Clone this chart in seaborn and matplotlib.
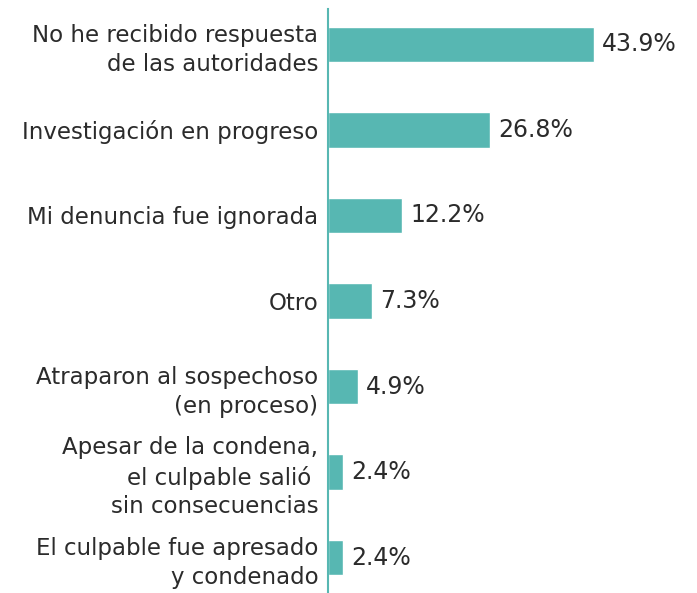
import matplotlib
matplotlib.use("Agg")
import matplotlib.pyplot as plt
import seaborn as sns
import pandas as pd

categories = [
    "No he recibido respuesta\nde las autoridades",
    "Investigación en progreso",
    "Mi denuncia fue ignorada",
    "Otro",
    "Atraparon al sospechoso\n(en proceso)",
    "Apesar de la condena,\nel culpable salió \nsin consecuencias",
    "El culpable fue apresado\ny condenado",
]
values = [43.9, 26.8, 12.2, 7.3, 4.9, 2.4, 2.4]
value_labels = ["43.9%", "26.8%", "12.2%", "7.3%", "4.9%", "2.4%", "2.4%"]

sns.set_theme(style="white")
plt.rcParams['font.family'] = ['DejaVu Sans']

bar_color = "#57b7b2"
text_color = "#2b2b2b"

df = pd.DataFrame({"cat": categories, "val": values})

fig = plt.figure(figsize=(6.97, 5.93), dpi=100)
ax = fig.add_axes([328/697, 0, 1 - 328/697, 584/593])

sns.barplot(data=df, x="val", y="cat", orient="h", color=bar_color,
            saturation=1, width=0.41, ax=ax)

ax.set_xlim(0, 61)
ax.set_ylim(6.415, -0.415)
ax.set_xlabel("")
ax.set_ylabel("")
ax.set_xticks([])
for s in ["top", "right", "bottom"]:
    ax.spines[s].set_visible(False)
ax.spines["left"].set_color(bar_color)
ax.spines["left"].set_linewidth(1.5)

ax.tick_params(axis="y", length=0, pad=7, labelsize=16.5, labelcolor=text_color)
for lbl in ax.get_yticklabels():
    lbl.set_horizontalalignment("right")
    lbl.set_multialignment("right")
    lbl.set_linespacing(1.32)

for i, (v, t) in enumerate(zip(values, value_labels)):
    ax.annotate(t, xy=(v, i), xytext=(6, 0), textcoords="offset points",
                va="center", ha="left", fontsize=17, color=text_color)

fig.savefig("out.png", dpi=100)
